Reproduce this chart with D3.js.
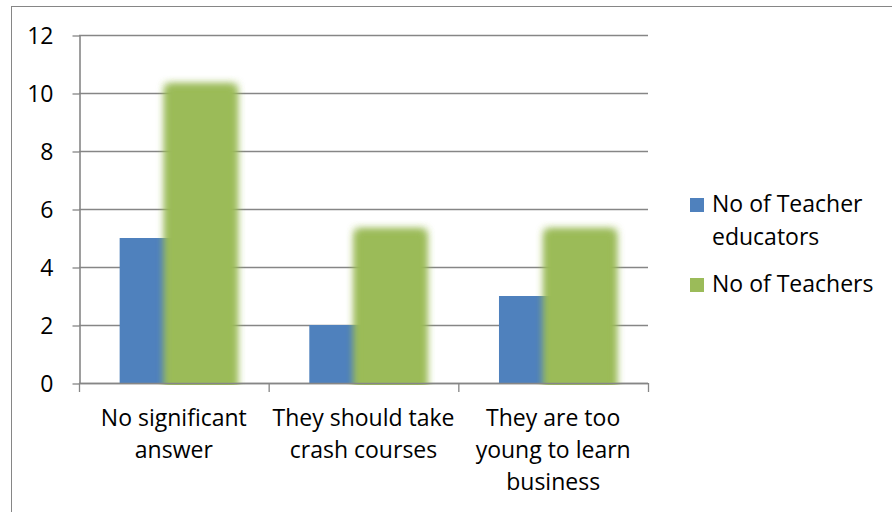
<!DOCTYPE html>
<html>
<head>
<meta charset="utf-8">
<script src="https://cdn.jsdelivr.net/npm/d3@7"></script>
<style>
  html, body { margin: 0; padding: 0; background: #fff; }
  svg { display: block; font-family: "Open Sans", "Noto Sans", sans-serif; }
</style>
</head>
<body>
<svg id="chart" width="892" height="512"></svg>
<script>
// ---- data ----
const categories = ["No significant\nanswer", "They should take\ncrash courses", "They are too\nyoung to learn\nbusiness"];
const seriesNames = ["No of Teacher\neducators", "No of Teachers"];
const teacherEducators = [5, 2, 3];
const teachers = [10, 5, 5];
const yTicks = [0, 2, 4, 6, 8, 10, 12];
const colors = ["#4F81BD", "#9BBB59"];

// ---- layout ----
const W = 892, H = 512;
const plot = { left: 79, right: 648, top: 35, bottom: 383 };
const fontSize = 23;
const gridColor = "#868686";

const svg = d3.select("#chart");

// outer border
svg.append("rect")
  .attr("x", 11.5).attr("y", 6.5)
  .attr("width", W).attr("height", H)
  .attr("fill", "#fff").attr("stroke", gridColor).attr("stroke-width", 1);

const y = d3.scaleLinear().domain([0, 12]).range([plot.bottom, plot.top]);
const x = d3.scaleBand().domain(categories).range([plot.left, plot.right]).padding(0);
const xs = d3.scaleBand().domain(seriesNames).range([0, x.bandwidth()])
  .paddingInner(0).paddingOuter(0.75);

const defs = svg.append("defs");
const glow = defs.append("filter").attr("id", "glow")
  .attr("filterUnits", "userSpaceOnUse")
  .attr("x", 0).attr("y", 0).attr("width", W).attr("height", H);
glow.append("feMorphology").attr("in", "SourceGraphic").attr("operator", "dilate").attr("radius", 8).attr("result", "d");
glow.append("feGaussianBlur").attr("in", "d").attr("stdDeviation", 4).attr("result", "b");
const fm = glow.append("feMerge");
fm.append("feMergeNode").attr("in", "b");
fm.append("feMergeNode").attr("in", "b");
fm.append("feMergeNode").attr("in", "SourceGraphic");

defs.append("clipPath").attr("id", "plotclip")
  .append("rect")
  .attr("x", plot.left - 40).attr("y", plot.top - 40)
  .attr("width", plot.right - plot.left + 80)
  .attr("height", plot.bottom - plot.top + 42);

// gridlines
svg.append("g")
  .selectAll("line").data(yTicks).join("line")
  .attr("x1", plot.left).attr("x2", plot.right)
  .attr("y1", d => y(d) + 0.5).attr("y2", d => y(d) + 0.5)
  .attr("stroke", gridColor).attr("stroke-width", 1.3);

// y axis
const yAxis = svg.append("g")
  .attr("transform", `translate(${plot.left + 0.5},0.5)`)
  .call(d3.axisLeft(y).tickValues(yTicks).tickSize(7).tickPadding(19).tickSizeOuter(0));
yAxis.select(".domain").attr("stroke", gridColor).attr("stroke-width", 1.6);
yAxis.selectAll(".tick line").attr("stroke", gridColor).attr("stroke-width", 1.3);
yAxis.selectAll(".tick text")
  .attr("font-size", fontSize).attr("font-family", "'Open Sans', sans-serif")
  .attr("fill", "#000").attr("dy", "0.34em");

// bars
const barsG = svg.append("g").attr("clip-path", "url(#plotclip)");
barsG.selectAll("rect.s0").data(categories).join("rect")
  .attr("class", "s0")
  .attr("x", (c) => x(c) + xs(seriesNames[0]))
  .attr("width", xs.bandwidth())
  .attr("y", (c, i) => y(teacherEducators[i]))
  .attr("height", (c, i) => y(0) - y(teacherEducators[i]))
  .attr("fill", colors[0]);
const greenG = barsG.append("g").attr("filter", "url(#glow)");
greenG.selectAll("rect.s1").data(categories).join("rect")
  .attr("class", "s1")
  .attr("x", (c) => x(c) + xs(seriesNames[1]))
  .attr("width", xs.bandwidth())
  .attr("y", (c, i) => y(teachers[i]))
  .attr("height", (c, i) => y(0) - y(teachers[i]))
  .attr("fill", colors[1]);

// x axis baseline & ticks
const xg = svg.append("g");
xg.append("line")
  .attr("x1", plot.left).attr("x2", plot.right)
  .attr("y1", y(0) + 0.5).attr("y2", y(0) + 0.5)
  .attr("stroke", gridColor).attr("stroke-width", 1.6);
const edges = categories.map(c => x(c)).concat([x.range()[1]]);
xg.selectAll("line.tick").data(edges).join("line")
  .attr("class", "tick")
  .attr("x1", d => d + 0.5).attr("x2", d => d + 0.5)
  .attr("y1", y(0)).attr("y2", y(0) + 9)
  .attr("stroke", gridColor).attr("stroke-width", 1.3);

// x labels
const lineH = 32;
const labels = xg.selectAll("text.lab").data(categories).join("text")
  .attr("class", "lab")
  .attr("text-anchor", "middle")
  .attr("font-size", fontSize).attr("fill", "#000")
  .attr("x", c => x(c) + x.bandwidth() / 2)
  .attr("y", 426);
labels.each(function(c) {
  const t = d3.select(this);
  c.split("\n").forEach((ln, i) => {
    t.append("tspan").attr("x", x(c) + x.bandwidth() / 2).attr("y", 426 + i * lineH).text(ln);
  });
});

// legend
const legend = svg.append("g");
const legendY = [212, 292];
seriesNames.forEach((s, i) => {
  legend.append("rect")
    .attr("x", 690).attr("y", legendY[i] - 14)
    .attr("width", 14).attr("height", 14)
    .attr("fill", colors[i]);
  const t = legend.append("text").attr("font-size", fontSize).attr("fill", "#000");
  s.split("\n").forEach((ln, j) => {
    t.append("tspan").attr("x", 712).attr("y", legendY[i] + j * 33).text(ln);
  });
});
</script>
</body>
</html>
